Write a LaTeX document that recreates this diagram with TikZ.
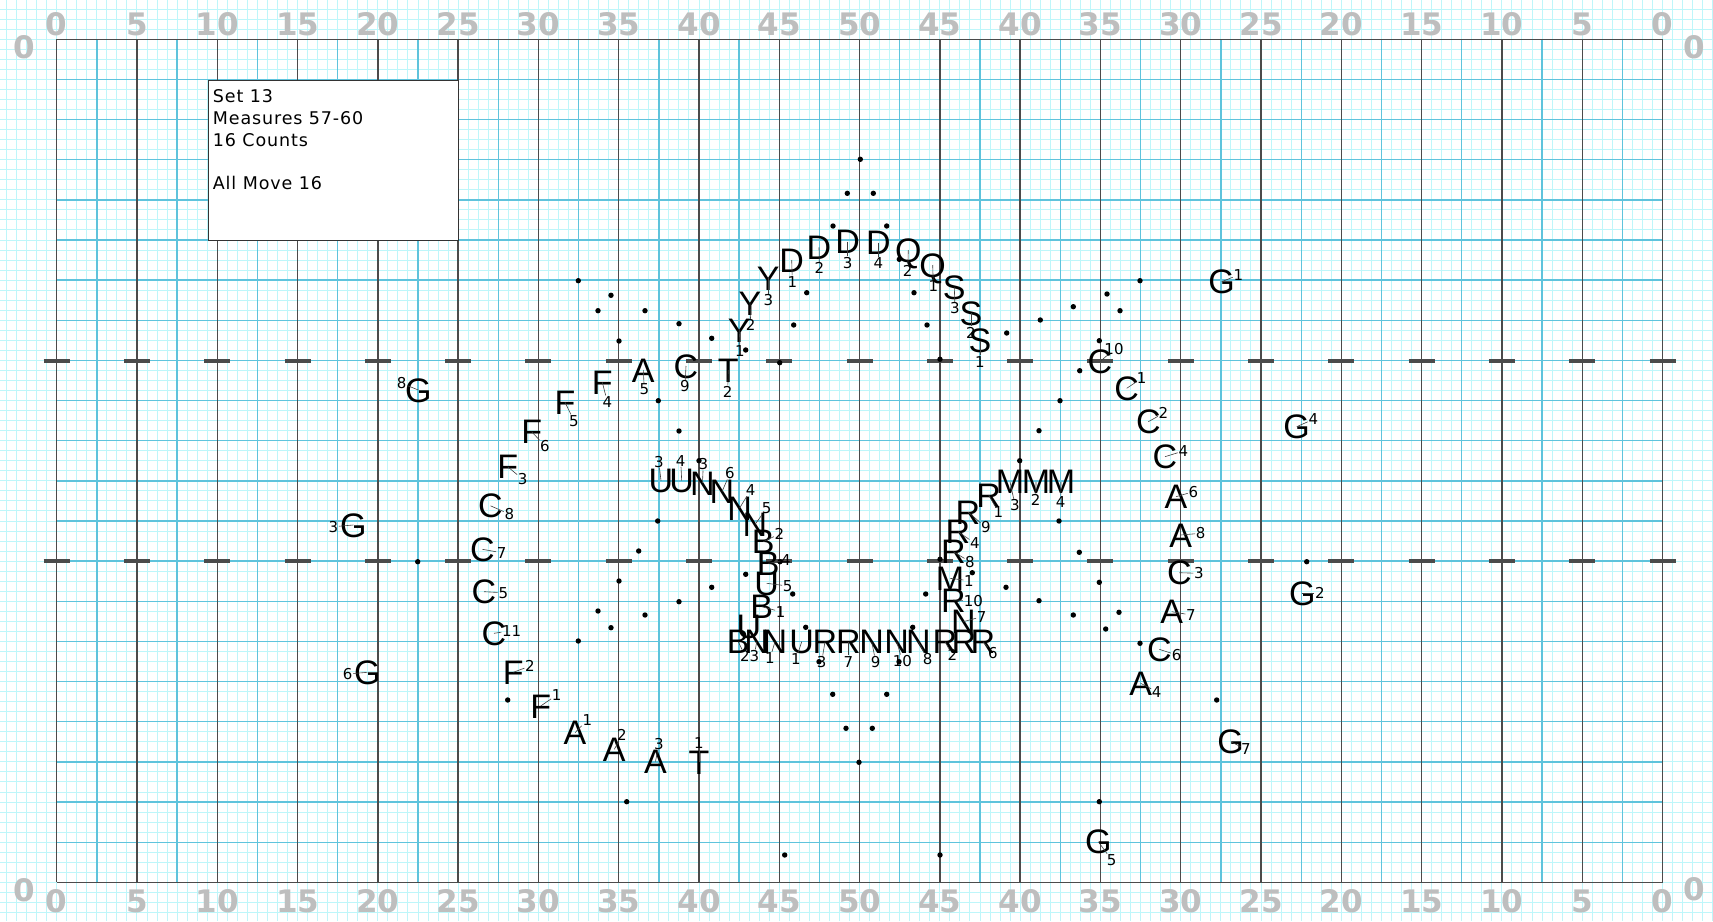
\documentclass[tikz,border=0pt]{standalone}
\usepackage{fontspec}
\setmainfont{DejaVu Sans}
\newfontfamily\ltrfont{Liberation Sans}
\newfontfamily\boxfont[LetterSpace=5]{DejaVu Sans}
\definecolor{finegrid}{RGB}{190,246,250}
\definecolor{gridblue}{RGB}{95,195,220}
\definecolor{yardgray}{RGB}{75,75,75}
\definecolor{yardnum}{RGB}{190,190,190}

\begin{document}
\begin{tikzpicture}[x=1pt,y=-1pt,
  fine/.style={finegrid,line width=1pt},
  blue/.style={gridblue,line width=1.4pt},
  yard/.style={yardgray,line width=1.4pt},
  hash/.style={yardgray,line width=4pt},
  ydnum/.style={font=\bfseries\fontsize{31}{31}\selectfont,text=yardnum,anchor=base,inner sep=0pt},
  infobox/.style={draw=black!80,fill=white,line width=1.2pt,anchor=north west,minimum width=250pt,minimum height=160pt,inner sep=0pt},
  boxtxt/.style={font=\boxfont\fontsize{17.5}{21.7}\selectfont,anchor=base west,inner sep=0pt},
  ltr/.style={font=\ltrfont\fontsize{34}{34}\selectfont,inner sep=0pt,text height=24.3pt,text depth=0pt},
  num/.style={font=\fontsize{15}{15}\selectfont,inner sep=0.6pt,text height=10.9pt,text depth=0pt},
  tick/.style={black!75,line width=0.6pt},
  dot/.style={circle,fill=black,inner sep=0pt,minimum size=5.4pt}]
\useasboundingbox (0,0) rectangle (1713,921);
\fill[white] (0,0) rectangle (1713,921);
% --- step grid over the whole sheet ---
\foreach \i in {-5,...,165} \draw[fine] ({56.7+10.036*\i},0) -- ({56.7+10.036*\i},921);
\foreach \j in {-3,...,87} \draw[fine] (0,{39.3+10.036*\j}) -- (1713,{39.3+10.036*\j});
% --- field: 2.5 yd lines, yard lines, hashes ---
\foreach \i in {1,3,...,39} \draw[blue] ({56.7+40.145*\i},39.3) -- ({56.7+40.145*\i},882.3);
\foreach \j in {1,...,20} \draw[blue] (56.7,{39.3+40.145*\j}) -- (1662.5,{39.3+40.145*\j});
\foreach \k in {0,...,20} \draw[yard] ({56.7+80.29*\k},39.3) -- ({56.7+80.29*\k},882.3);
\draw[yard] (56.7,39.3) -- (1662.5,39.3);
\draw[yard] (56.7,882.3) -- (1662.5,882.3);
\foreach \k in {0,...,20} \foreach \h in {360.5,561.2}
  \draw[hash] ({56.7+80.29*\k-13},\h) -- ++(26,0);
% --- yard numbers ---
\foreach \k in {0,...,20} {
  \pgfmathtruncatemacro\yd{5*min(\k,20-\k)}
  \node[ydnum] (top\k) at ({56.7+80.29*\k},35.5) {\yd};
  \node[ydnum] (bot\k) at ({56.7+80.29*\k},912) {\yd};
}
\node[ydnum] (sidetl) at (24,58) {0};
\node[ydnum] (sidebl) at (24,901.5) {0};
\node[ydnum] (sidetr) at (1694.5,58) {0};
\node[ydnum] (sidebr) at (1694.5,900) {0};
% --- set box ---
\node[infobox] (info) at (207.7,80) {};
\node[boxtxt] (set)  at (212.7,102.7) {Set 13};
\node[boxtxt] (meas) at (212.7,124.4) {Measures 57-60};
\node[boxtxt] (cnt)  at (212.7,146.1) {16 Counts};
\node[boxtxt] (move) at (212.7,189.5) {All Move 16};
% --- next-set dots ---
\foreach \x/\y [count=\i] in {578.3/280.7,611/295.3,598/310.7,645/310.7,619/341,658.3/400.7,
  860.3/159.3,847.3/193.3,873.3/193.3,833/226,886.7/226,806.7/292.7,914/292.7,793.7/325,927/325,
  679/323.7,711.7/338.3,745.7/350,779.7/362.7,940/359.3,679/431,699/460.7,899.3/259.3,
  1140/280.7,1107/294,1120/310.7,1073.3/306.7,1040.3/320,1006.7/333,1099.3/340.7,1079.7/370.7,
  1060/400.7,1039/430.7,1019.7/460.7,
  417.7/561.7,657.7/521,638.7/551,619/581,598/611,645/615,611/627.7,578.3/641,507.7/700,626.7/801.7,
  679/601.7,711.7/587.3,745.7/574.3,792.7/594,805.7/627.3,780/561.7,819/661.7,832.7/694.3,
  886.7/694.3,846/728.3,872.3/728.3,859/762.3,784.7/855,940/855,899/661.7,912.7/627.3,925.7/594,
  972.3/572.7,940/559.3,
  1059/521,1079.3/552.3,1099.3/582.3,1006/587.3,1039/600.7,1073.3/615,1119/612.3,1105.7/629,
  1140/643.3,1216.7/700,1099.3/801.7,1306.7/561.7}
  \node[dot] (d\i) at (\x,\y) {};
% --- performers: letter, number, tick ---
\foreach \lab/\x/\y/\nm/\nx/\ny [count=\i] in {
  G/418.3/390/8/401.7/383.3, G/353.3/525/3/333.3/526.7, G/367.3/672.3/6/347.7/674,
  F/602.3/382.3/4/607.3/401.7, A/643.3/370/5/644.3/389.3, F/565/402.3/5/574/420.7,
  F/531.7/431.7/6/545/446, F/507.7/466.7/3/522.7/479.3, C/490.5/505.8/8/509.3/514,
  C/482.3/549.3/7/501.7/552.7, C/484/591.7/5/503.3/592.7, C/494/633.3/11/511.7/630.7,
  F/513.3/672.3/2/530/666, F/540.7/706/1/556.7/695, A/575/732.7/1/587.3/720,
  A/614.3/749.3/2/622/735.3, A/655.5/761.5/3/658.8/744, T/699/762.3/1/699/743.3,
  C/686/366/9/685/386, T/728.3/370/2/727.7/391.7,
  Y/739.3/330/1/740/351, Y/750/303.3/2/750.7/325, Y/768.3/278.3/3/768.3/300,
  D/791.7/260/1/792.3/281.7, D/819/247.3/2/819.3/268.3, D/847.7/241.7/3/847.7/262.7,
  D/878.3/242.7/4/878.3/263.3, Q/908.3/250/2/907.7/270.7, Q/932.7/265/1/933.3/286,
  S/954.3/287.3/3/955/308.3, S/971/313.3/2/971/332.7, S/980/340.7/1/980/361.7,
  G/1221.7/281.7/1/1238.3/275, C/1100/361.7/10/1114/349.3, C/1126.7/388.3/1/1141.7/378.3,
  C/1148.3/421.7/2/1163.3/413.3, C/1165/456.7/4/1183.3/451, G/1296.7/426.7/4/1313.3/419.3,
  A/1176/496.7/6/1193.3/491.7, A/1180.7/535/8/1200.7/533.3, C/1179.3/572.7/3/1199/573.3,
  A/1171.7/611.7/7/1191/615, C/1159.3/649.3/6/1176.7/655, A/1140.7/683.3/4/1156.7/691.7,
  G/1302.3/593.3/2/1320/593.3, G/1230.7/741.7/7/1246/749.3, G/1098.3/841.7/5/1111.7/860,
  U/661/480.7/3/658.8/462, U/681.7/480.7/4/680.7/460.7, N/702.5/482.9/3/703.3/464.3,
  N/722/491.6/6/730/473.3, N/739.6/508/4/750.7/490, N/755/524.4/5/766.7/508.3,
  B/763.3/541.7/2/779.3/534, B/768.3/563.3/4/786/560, U/766.7/583.3/5/787.7/586,
  B/761.7/606.7/1/780.7/611.7,
  B/738.3/641.7/2/745/655.7, N/756.7/641.7/3/754.3/655.7, N/775/641.7/1/770/658.3,
  U/801.7/641.7/1/796/659.3, R/825/641.7/3/821.7/661.7, R/848.3/641.7/7/848.3/661.7,
  N/871.7/641.7/9/875.7/661.7, N/896.7/641.7/10/902.3/660.7, N/918.3/641.7/8/927.7/659,
  R/945/641.7/2/952.3/655, R/983/641.7/6/993/653.3,
  N/963.3/621.7/7/981.7/616.7, R/953.3/600/10/973.3/600.7, M/950/578.3/1/969/580.7,
  R/953.3/551.7/8/970/561.7, R/958/531.7/4/975/543.3, R/968/512/9/986/527.5,
  R/988.7/494.9/1/998.5/512.4, M/1010/481.8/3/1015/505, M/1036/481.8/2/1035.7/500,
  M/1061/481.8/4/1060.7/501.7} {
  \node[ltr] (m\i) at (\x,\y) {\lab};
  \node[num] (n\i) at (\nx,\ny) {\nm};
  \draw[tick] (m\i.center) -- (n\i);
}
\node[ltr] (ulow) at (748.8,626) {U};
\node[ltr] (rmid) at (964,641.7) {R};
\end{tikzpicture}
\end{document}
